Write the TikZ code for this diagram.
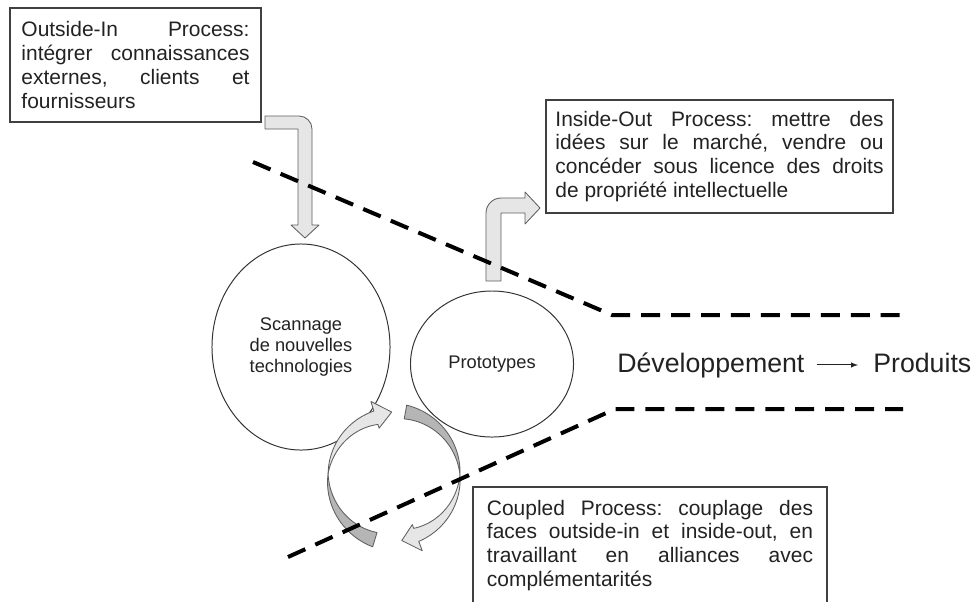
\documentclass[tikz,border=0pt]{standalone}
\usepackage{fontspec}
\setmainfont{Liberation Sans}
\usetikzlibrary{shapes.geometric}
\definecolor{arrowfill}{HTML}{E6E6E6}
\definecolor{arrowdark}{HTML}{B5B5B5}
\definecolor{arrowline}{HTML}{5E5E5E}
\definecolor{ink}{HTML}{222222}
\frenchspacing

\begin{document}
\begin{tikzpicture}[
    x=0.025cm, y=-0.025cm,
    box/.style={draw=black!75, line width=0.85pt, rectangle, inner sep=0pt, align=justify,
        font=\fontsize{14.9}{17}\selectfont, text=ink},
    bubble/.style={draw=black!80, line width=0.7pt, ellipse, inner sep=0pt, align=center,
        font=\fontsize{13}{14.9}\selectfont, text=ink},
    lbl/.style={font=\fontsize{19}{22}\selectfont, text=ink, inner xsep=0pt,
        text height=14pt, text depth=4pt, anchor=base west},
    fat/.style={fill=arrowfill, draw=arrowline, line width=0.6pt, line join=round},
    fatdark/.style={fill=arrowdark, draw=arrowline, line width=0.6pt, line join=round},
    border/.style={black, line width=2.85pt, dash pattern=on 13.5pt off 7.8pt}
]
\useasboundingbox (0,0) rectangle (977,601);
\clip (0,0) rectangle (977,601);

\node[box, text width=5.7cm, minimum width=6.275cm, minimum height=2.85cm] (outin) at (135.5,65)
    {Outside-In Process:\linebreak intégrer connaissances\linebreak externes, clients et\linebreak fournisseurs};
\node[box, text width=8.2cm, minimum width=8.675cm, minimum height=2.825cm] (inout) at (719.5,156.5)
    {Inside-Out Process: mettre des\linebreak idées sur le marché, vendre ou\linebreak concéder sous licence des droits\linebreak de propriété intellectuelle};
\node[box, text width=8.15cm, minimum width=8.85cm, minimum height=2.925cm] (coupled) at (650,545.5)
    {Coupled Process: couplage des\linebreak faces outside-in et inside-out, en\linebreak travaillant en alliances avec\linebreak complémentarités};

\node[bubble, minimum width=4.45cm, minimum height=5.15cm] (scan) at (301,347) {Scannage\\de nouvelles\\technologies};
\node[bubble, minimum width=4.075cm, minimum height=3.65cm] (proto) at (492,364) {Prototypes};

\draw[fat] (265,116) -- (299,116) arc[start angle=-90, end angle=0, radius=13] -- (312,225) -- (319,225)
    -- (305,238) -- (291,225) -- (298,225) -- (298,129) -- (265,129) -- cycle;
\draw[fat] (486,281) -- (486,213) arc[start angle=180, end angle=270, radius=15] -- (525,198) -- (525,192)
    -- (540,208) -- (525,224) -- (525,213) -- (501,213) -- (501,281) -- cycle;

\begin{scope}[shift={(394,477)}]
\draw[fatdark] plot[domain=107:183, samples=25] (\x:{66+7*(183-\x)/76})
    -- plot[domain=183:107, samples=25] (\x:{66-8*(183-\x)/76}) -- cycle;
\draw[fat] plot[domain=183:253, samples=25] (\x:{66+3*(\x-183)/70}) -- (253:79) -- (268:65) -- (253:51)
    -- plot[domain=253:183, samples=25] (\x:{66-11*(\x-183)/70}) -- cycle;
\draw[fatdark] plot[domain=280:358, samples=25] (\x:{66+7*(358-\x)/78})
    -- plot[domain=358:280, samples=25] (\x:{66-7*(358-\x)/78}) -- cycle;
\draw[fat] plot[domain=358:429, samples=25] (\x:{66+3*(\x-358)/71}) -- (429:79) -- (443:64) -- (429:51)
    -- plot[domain=429:358, samples=25] (\x:{66-11*(\x-358)/71}) -- cycle;
\end{scope}

\draw[border] (253,162) -- (612,315) -- (903,315);
\draw[border] (288,557) -- (615,409) -- (903,409);

\node[lbl] (dev) at (617,372) {Développement};
\node[lbl] (prod) at (873,372) {Produits};
\draw[-latex, line width=0.7pt, ink, shorten <=0.3cm, shorten >=0.375cm] (dev.east) -- (prod.west);

\end{tikzpicture}
\end{document}
